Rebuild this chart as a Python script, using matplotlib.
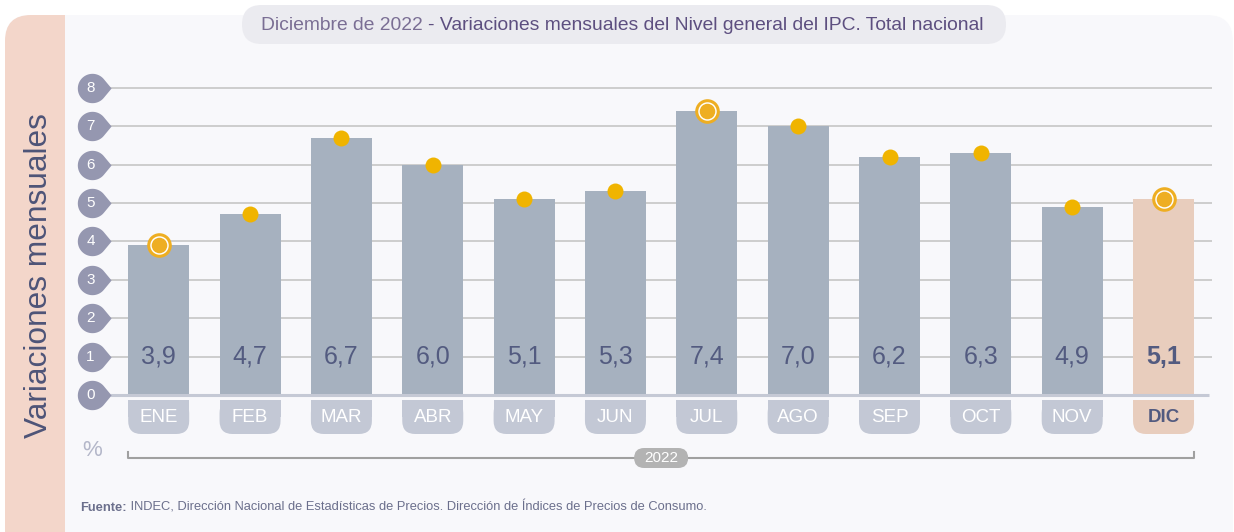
import numpy as np
import matplotlib
matplotlib.use('Agg')
import matplotlib.pyplot as plt
from matplotlib.patches import FancyBboxPatch, Rectangle
from matplotlib.path import Path

# --- data ---
months = ['ENE', 'FEB', 'MAR', 'ABR', 'MAY', 'JUN', 'JUL', 'AGO', 'SEP', 'OCT', 'NOV', 'DIC']
values = [3.9, 4.7, 6.7, 6.0, 5.1, 5.3, 7.4, 7.0, 6.2, 6.3, 4.9, 5.1]
value_labels = ['3,9', '4,7', '6,7', '6,0', '5,1', '5,3', '7,4', '7,0', '6,2', '6,3', '4,9', '5,1']
ringed = ['ENE', 'JUL', 'DIC']
y_ticks = [0, 1, 2, 3, 4, 5, 6, 7, 8]
year_label = '2022'
title_a = 'Diciembre de 2022 '
title_b = '- Variaciones mensuales del Nivel general del IPC. Total nacional'
y_label = 'Variaciones mensuales'
source_bold = 'Fuente:'
source_text = ' INDEC, Dirección Nacional de Estadísticas de Precios. Dirección de Índices de Precios de Consumo.'

# --- colours ---
BAR = '#a6b1bf'
BAR_HL = '#e8cdbd'
PILL = '#c3c8d5'
GOLD = '#f0b400'
RING = '#eeae22'
DARK = '#535b80'
TICK_DROP = '#9597b0'
PANEL = '#f8f8fb'
PEACH = '#f3d6ca'

plt.rcParams['font.family'] = ['Liberation Sans', 'DejaVu Sans']

W, H = 1234, 532
fig = plt.figure(figsize=(W / 100, H / 100), dpi=100)
fig.patch.set_facecolor('white')

# background axes in pixel coordinates
bg = fig.add_axes([0, 0, 1, 1], zorder=0)
bg.set_xlim(0, W)
bg.set_ylim(H, 0)
bg.axis('off')

bg.add_patch(FancyBboxPatch((5, 15), 1228, 560, boxstyle='round,pad=0,rounding_size=26',
                            fc=PANEL, ec='none'))
bg.add_patch(FancyBboxPatch((5, 15), 120, 560, boxstyle='round,pad=0,rounding_size=26',
                            fc=PEACH, ec='none'))
bg.add_patch(Rectangle((65, 15), 200, 560, fc=PANEL, ec='none'))

# title pill
bg.add_patch(FancyBboxPatch((242, 5), 764, 39, boxstyle='round,pad=0,rounding_size=19.5',
                            fc='#ebebf0', ec='none'))
t1 = bg.text(261, 25, title_a, fontsize=13.9, color='#7a6e94', va='center', ha='left')
bg.annotate(title_b, xy=(1, 0), xycoords=t1, va='bottom', ha='left',
            fontsize=13.9, color='#5d4f80')

bg.text(39, 276, y_label, rotation=90, fontsize=22.8, color='#4e5478', ha='center', va='center')
bg.text(92, 451, '%', fontsize=16, color='#b4b7c9', ha='center', va='center')

s1 = bg.text(80, 508, source_bold, fontsize=9.3, color='#6b6f8c', fontweight='bold', va='center')
bg.annotate(source_text, xy=(1, 0), xycoords=s1, va='bottom', ha='left',
            fontsize=9.3, color='#6b6f8c')

# --- chart axes, placed so that x=0 -> px 158.7, y=0 -> px 395 ---
x0_px, dx_px = 158.7, 91.35
y0_px, dy_px = 395.0, 38.41
left_px, right_px, top_px, bot_px = 60, 1225, 60, 485
ax = fig.add_axes([left_px / W, (H - bot_px) / H, (right_px - left_px) / W, (bot_px - top_px) / H],
                  zorder=1)
ax.set_xlim((left_px - x0_px) / dx_px, (right_px - x0_px) / dx_px)
ax.set_ylim(-(bot_px - y0_px) / dy_px, (y0_px - top_px) / dy_px)
ax.axis('off')
ax.patch.set_alpha(0)

px_x = 1 / dx_px
px_y = 1 / dy_px
aspect = px_y / px_x

x = np.arange(len(months))
bar_w = 61 * px_x

# gridlines
grid_l, grid_r = (110 - x0_px) * px_x, (1212 - x0_px) * px_x
for t in y_ticks[1:]:
    ax.plot([grid_l, grid_r], [t, t], color='#cacaca', lw=1.3, zorder=1, solid_capstyle='butt')
ax.plot([grid_l, (1209 - x0_px) * px_x], [0, 0], color='#c5c9d5', lw=2.2, zorder=3,
        solid_capstyle='butt')

# teardrop tick markers
r, d = 1.0, 1.3
th = np.arccos(r / d)
ang = np.linspace(th, 2 * np.pi - th, 60)
verts = np.column_stack([np.cos(ang), np.sin(ang)])
verts = np.vstack([[d, 0], verts, [d, 0]])
drop = Path(verts, closed=True)
tick_x = (92 - x0_px) * px_x
for t in y_ticks:
    ax.plot(tick_x, t, marker=drop, markersize=27.5, color=TICK_DROP, mec='none', zorder=4,
            clip_on=False)
    ax.text(tick_x - 1.5 * px_x, t, str(t), color='white', fontsize=11, ha='center',
            va='center', zorder=5)

# bars
colors = [BAR_HL if m == 'DIC' else BAR for m in months]
ax.bar(x, values, width=bar_w, color=colors, zorder=2)

# value labels
for i, lab in enumerate(value_labels):
    hl = months[i] == 'DIC'
    ax.text(x[i], 1, lab, fontsize=18, color=DARK, ha='center', va='center', zorder=5,
            fontweight='bold' if hl else 'normal')

# month pills (square top, rounded bottom)
pill_top = -5 * px_y
pill_bot = -39 * px_y
rr = 13 * px_x
for i, m in enumerate(months):
    c = BAR_HL if m == 'DIC' else PILL
    ax.add_patch(FancyBboxPatch((x[i] - bar_w / 2, pill_bot), bar_w, pill_top - pill_bot,
                                boxstyle=f'round,pad=0,rounding_size={rr}',
                                mutation_aspect=aspect, fc=c, ec='none', zorder=2))
    ax.add_patch(Rectangle((x[i] - bar_w / 2, (pill_top + pill_bot) / 2), bar_w,
                           (pill_top - pill_bot) / 2, fc=c, ec='none', zorder=2))
    hl = m == 'DIC'
    ax.text(x[i], (pill_top + pill_bot) / 2, m, fontsize=13.5, ha='center', va='center',
            color=DARK if hl else 'white', fontweight='bold' if hl else 'normal', zorder=3)

# dots on top of bars
for i, m in enumerate(months):
    if m in ringed:
        ax.plot(x[i], values[i], 'o', markersize=15.5, mfc='white', mec=RING, mew=2.2, zorder=6)
        ax.plot(x[i], values[i], 'o', markersize=11.2, color=RING, mec='none', zorder=7)
    else:
        ax.plot(x[i], values[i], 'o', markersize=11.5, color=GOLD, mec='none', zorder=6)

# year bracket
br_y = -(458 - y0_px) * px_y
br_l, br_r = x[0] - bar_w / 2, x[-1] + bar_w / 2
tick_h = 6 * px_y
ax.plot([br_l, br_l, br_r, br_r], [br_y + tick_h, br_y, br_y, br_y + tick_h],
        color='#a0a0a0', lw=1.5, zorder=2, clip_on=False)
br_mid = (br_l + br_r) / 2
pw, ph = 54 * px_x, 20 * px_y
ax.add_patch(FancyBboxPatch((br_mid - pw / 2, br_y - ph / 2), pw, ph,
                            boxstyle=f'round,pad=0,rounding_size={10 * px_x}',
                            mutation_aspect=aspect, fc='#b3b3b3', ec='none', zorder=3,
                            clip_on=False))
ax.text(br_mid, br_y, year_label, fontsize=11, color='white', ha='center',
        va='center', zorder=4)

fig.savefig('out.png', dpi=100, facecolor='white')
